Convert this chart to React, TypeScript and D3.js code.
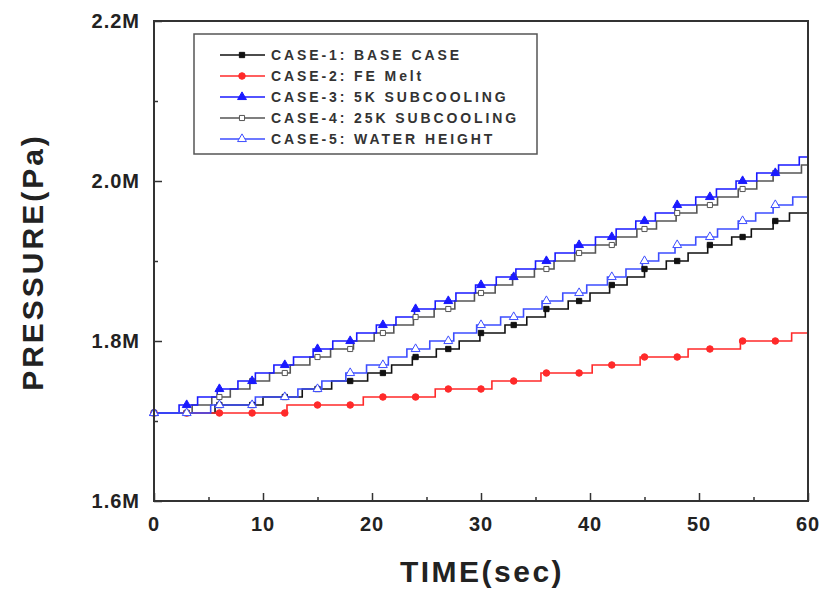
import React, { useEffect, useRef } from 'react';
import * as d3 from 'd3';

// step times (sec) at which the pressure reaches the listed value (MPa)
const case1Times = [5.6, 10.0, 13.6, 16.3, 19.6, 21.8, 23.7, 25.9, 28.0, 29.9, 32.2, 34.2, 35.9, 38.0, 40.0, 41.8, 43.4, 45.0, 47.0, 49.0, 50.8, 53.0, 54.8, 56.8, 58.3];
const case1Values = [1.72, 1.73, 1.74, 1.75, 1.76, 1.77, 1.78, 1.79, 1.8, 1.81, 1.82, 1.83, 1.84, 1.85, 1.86, 1.87, 1.88, 1.89, 1.9, 1.91, 1.92, 1.93, 1.94, 1.95, 1.96];

const case2Times = [12.2, 19.2, 25.8, 31.0, 35.5, 40.2, 44.6, 49.0, 53.8, 58.5];
const case2Values = [1.72, 1.73, 1.74, 1.75, 1.76, 1.77, 1.78, 1.79, 1.8, 1.81];

const case3Times = [2.3, 4.0, 5.8, 7.7, 9.3, 11.0, 12.8, 14.6, 16.4, 18.6, 20.4, 22.2, 23.9, 25.8, 27.7, 29.5, 31.4, 33.2, 35.0, 36.8, 38.6, 40.5, 42.4, 44.2, 46.0, 47.8, 49.7, 51.6, 53.4, 55.3, 57.3, 59.2];
const case3Values = [1.72, 1.73, 1.74, 1.75, 1.76, 1.77, 1.78, 1.79, 1.8, 1.81, 1.82, 1.83, 1.84, 1.85, 1.86, 1.87, 1.88, 1.89, 1.9, 1.91, 1.92, 1.93, 1.94, 1.95, 1.96, 1.97, 1.98, 1.99, 2.0, 2.01, 2.02, 2.03];

const case4Times = [3.5, 5.3, 7.0, 8.8, 10.6, 12.5, 14.3, 16.2, 18.3, 20.2, 22.0, 23.8, 25.7, 27.6, 29.4, 31.3, 32.9, 34.9, 36.7, 38.6, 40.5, 42.4, 44.3, 46.1, 47.9, 49.8, 51.7, 53.6, 55.3, 56.8, 59.4];
const case4Values = [1.72, 1.73, 1.74, 1.75, 1.76, 1.77, 1.78, 1.79, 1.8, 1.81, 1.82, 1.83, 1.84, 1.85, 1.86, 1.87, 1.88, 1.89, 1.9, 1.91, 1.92, 1.93, 1.94, 1.95, 1.96, 1.97, 1.98, 1.99, 2.0, 2.01, 2.02];

const case5Times = [5.2, 9.3, 13.2, 15.4, 17.6, 19.5, 21.5, 23.2, 25.3, 27.5, 29.6, 31.8, 33.9, 35.6, 37.5, 39.7, 41.6, 43.3, 44.8, 46.3, 47.8, 49.7, 51.7, 53.6, 55.2, 56.8, 58.6];
const case5Values = [1.72, 1.73, 1.74, 1.75, 1.76, 1.77, 1.78, 1.79, 1.8, 1.81, 1.82, 1.83, 1.84, 1.85, 1.86, 1.87, 1.88, 1.89, 1.9, 1.91, 1.92, 1.93, 1.94, 1.95, 1.96, 1.97, 1.98];

const startPressure = 1.71;
const endTime = 60;
const markerTimes = [0, 3, 6, 9, 12, 15, 18, 21, 24, 27, 30, 33, 36, 39, 42, 45, 48, 51, 54, 57];

const timeTicks = [0, 10, 20, 30, 40, 50, 60];
const timeMinorTicks = [5, 15, 25, 35, 45, 55];
const pressureTicks = [1.6, 1.8, 2.0, 2.2];
const pressureLabels = ['1.6M', '1.8M', '2.0M', '2.2M'];
const pressureMinorTicks = [1.7, 1.9, 2.1];

const seriesNames = ['CASE-1: BASE CASE', 'CASE-2: FE Melt', 'CASE-3: 5K SUBCOOLING', 'CASE-4: 25K SUBCOOLING', 'CASE-5: WATER HEIGHT'];

const series = [
  { name: seriesNames[0], times: case1Times, values: case1Values, color: '#111111', symbol: d3.symbolSquare, size: 28, filled: true },
  { name: seriesNames[1], times: case2Times, values: case2Values, color: '#ff2a2a', symbol: d3.symbolCircle, size: 34, filled: true },
  { name: seriesNames[2], times: case3Times, values: case3Values, color: '#1a1aff', symbol: d3.symbolTriangle, size: 34, filled: true },
  { name: seriesNames[3], times: case4Times, values: case4Values, color: '#555555', symbol: d3.symbolSquare, size: 26, filled: false },
  { name: seriesNames[4], times: case5Times, values: case5Values, color: '#3d4dff', symbol: d3.symbolTriangle, size: 34, filled: false },
];

const W = 828;
const H = 591;
const FONT = 'Arial, "Liberation Sans", sans-serif';

const Chart = () => {
  const ref = useRef<SVGSVGElement>(null);

  useEffect(() => {
    const svg = d3.select(ref.current);
    svg.selectAll('*').remove();

    const x = d3.scaleLinear().domain([0, 60]).range([154, 808]);
    const y = d3.scaleLinear().domain([1.6, 2.2]).range([501, 21]);

    // lines
    const line = d3
      .line<[number, number]>()
      .x((d) => x(d[0]))
      .y((d) => y(d[1]))
      .curve(d3.curveStepAfter);

    const plot = svg.append('g');
    const order = [0, 1, 3, 2, 4];
    order.forEach((i) => {
      const s = series[i];
      const pts: [number, number][] = [[0, startPressure]];
      s.times.forEach((t, k) => pts.push([t, s.values[k]]));
      pts.push([endTime, s.values[s.values.length - 1]]);
      plot.append('path').attr('d', line(pts)).attr('fill', 'none').attr('stroke', s.color).attr('stroke-width', 1.6);
    });

    const valueAt = (s: any, t: number) => {
      const i = d3.bisectRight(s.times, t);
      return i === 0 ? startPressure : s.values[i - 1];
    };

    order.forEach((i) => {
      const s = series[i];
      const sym = d3.symbol().type(s.symbol).size(s.size);
      plot
        .selectAll(null)
        .data(markerTimes)
        .enter()
        .append('path')
        .attr('d', sym() as string)
        .attr('transform', (t) => `translate(${x(t)},${y(valueAt(s, t))})`)
        .attr('fill', s.filled ? s.color : '#fff')
        .attr('stroke', s.color)
        .attr('stroke-width', 1);
    });

    // frame
    svg.append('rect').attr('x', 154).attr('y', 21).attr('width', 654).attr('height', 480)
      .attr('fill', 'none').attr('stroke', '#333').attr('stroke-width', 2);

    // x axis ticks (inward)
    const xAxis = d3.axisTop(x).tickValues(timeTicks).tickSize(8).tickFormat(() => '');
    svg.append('g').attr('transform', 'translate(0,501)').call(xAxis).call((g) => g.select('.domain').remove())
      .selectAll('line').attr('stroke', '#333').attr('stroke-width', 1.5);
    const xMinor = d3.axisTop(x).tickValues(timeMinorTicks).tickSize(4).tickFormat(() => '');
    svg.append('g').attr('transform', 'translate(0,501)').call(xMinor).call((g) => g.select('.domain').remove())
      .selectAll('line').attr('stroke', '#333').attr('stroke-width', 1.5);

    svg.append('g').selectAll('text').data(timeTicks).enter().append('text')
      .attr('x', (d) => x(d)).attr('y', 531).attr('text-anchor', 'middle')
      .attr('font-family', FONT).attr('font-weight', 'bold').attr('font-size', 20).attr('fill', '#222')
      .attr('letter-spacing', 1).text((d) => String(d));

    // y axis ticks (inward)
    const yAxis = d3.axisRight(y).tickValues(pressureTicks).tickSize(8).tickFormat(() => '');
    svg.append('g').attr('transform', 'translate(154,0)').call(yAxis).call((g) => g.select('.domain').remove())
      .selectAll('line').attr('stroke', '#333').attr('stroke-width', 1.5);
    const yMinor = d3.axisRight(y).tickValues(pressureMinorTicks).tickSize(4).tickFormat(() => '');
    svg.append('g').attr('transform', 'translate(154,0)').call(yMinor).call((g) => g.select('.domain').remove())
      .selectAll('line').attr('stroke', '#333').attr('stroke-width', 1.5);

    svg.append('g').selectAll('text').data(pressureTicks).enter().append('text')
      .attr('x', 140).attr('y', (d) => y(d) + 7).attr('text-anchor', 'end')
      .attr('font-family', FONT).attr('font-weight', 'bold').attr('font-size', 20).attr('fill', '#222')
      .attr('letter-spacing', 1).text((d, i) => pressureLabels[i]);

    // axis titles
    svg.append('text').attr('x', 482).attr('y', 582).attr('text-anchor', 'middle')
      .attr('font-family', FONT).attr('font-weight', 'bold').attr('font-size', 30).attr('fill', '#222')
      .attr('letter-spacing', 2.5).text('TIME(sec)');
    svg.append('text').attr('transform', 'translate(43,262) rotate(-90)').attr('text-anchor', 'middle')
      .attr('font-family', FONT).attr('font-weight', 'bold').attr('font-size', 30).attr('fill', '#222')
      .attr('letter-spacing', 3).text('PRESSURE(Pa)');

    // legend
    const lg = svg.append('g');
    lg.append('rect').attr('x', 194).attr('y', 34).attr('width', 343).attr('height', 120)
      .attr('fill', '#fff').attr('stroke', '#555').attr('stroke-width', 1.5);
    series.forEach((s, i) => {
      const ly = 55 + i * 21;
      lg.append('line').attr('x1', 220).attr('x2', 265).attr('y1', ly).attr('y2', ly)
        .attr('stroke', s.color).attr('stroke-width', 1.6);
      lg.append('path').attr('d', d3.symbol().type(s.symbol).size(s.size)() as string)
        .attr('transform', `translate(242,${ly})`)
        .attr('fill', s.filled ? s.color : '#fff').attr('stroke', s.color).attr('stroke-width', 1);
      lg.append('text').attr('x', 271).attr('y', ly + 5)
        .attr('font-family', FONT).attr('font-weight', 'bold').attr('font-size', 14).attr('fill', '#333')
        .attr('letter-spacing', 2.9).text(s.name);
    });
  }, []);

  return <svg ref={ref} width={W} height={H} style={{ position: 'absolute', left: 0, top: 0, background: '#fff' }} />;
};

export default function App() {
  return <Chart />;
}
